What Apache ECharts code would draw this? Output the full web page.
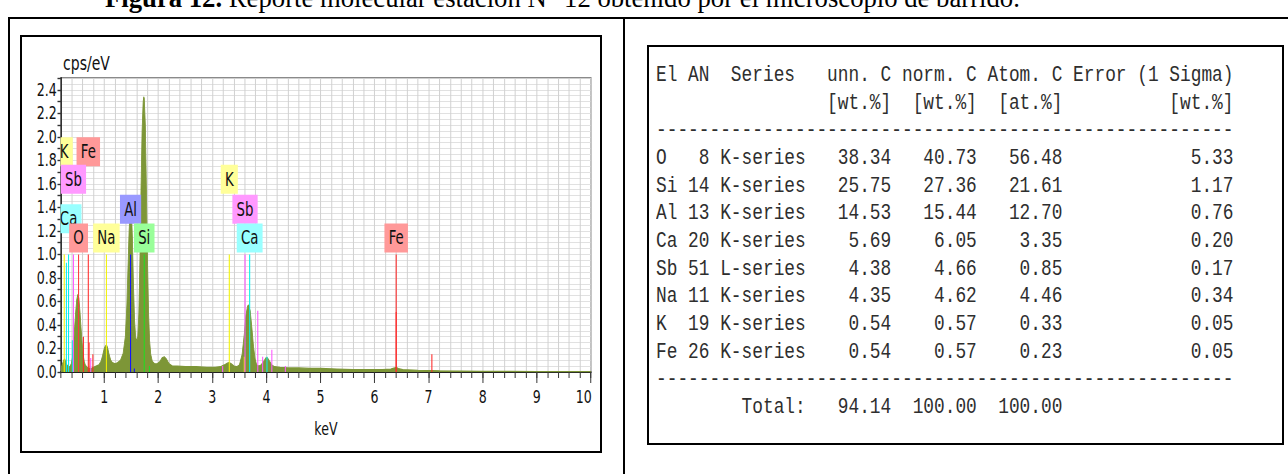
<!DOCTYPE html>
<html>
<head>
<meta charset="utf-8">
<script src="https://cdn.jsdelivr.net/npm/echarts@6/dist/echarts.min.js"></script>
<style>
  html, body { margin: 0; padding: 0; background: #fff; }
  body { width: 1288px; height: 474px; overflow: hidden; position: relative; }
  .rule { position: absolute; background: #000; }
  .box { position: absolute; border: 2px solid #000; box-sizing: border-box; }
  #caption { position: absolute; left: 105px; top: -15px; font: 26.7px/26px 'Liberation Serif', 'Times New Roman', serif; white-space: nowrap; color: #000; }
  #spectrum { position: absolute; left: 22px; top: 37px; width: 824px; height: 413px; transform: scaleX(0.7); transform-origin: 0 0; }
  #quant { position: absolute; left: 656px; top: 62px; margin: 0; font: 22px/27.67px 'Liberation Mono', 'DejaVu Sans Mono', monospace; color: #2e2e2e; transform: scaleX(0.81); transform-origin: 0 0; white-space: pre; }
</style>
</head>
<body>
<div id="caption"><b>Figura 12.</b> Reporte molecular estación N° 12 obtenido por el microscopio de barrido.</div>
<div class="rule" style="left:8px;top:17px;width:1280px;height:2px"></div>
<div class="rule" style="left:8px;top:17px;width:2px;height:457px"></div>
<div class="rule" style="left:623px;top:17px;width:2px;height:457px"></div>
<div class="box" style="left:20px;top:35px;width:582px;height:418px"></div>
<div class="box" style="left:647px;top:45px;width:637px;height:400px"></div>
<div id="spectrum"></div>
<pre id="quant"></pre>
<script>
// EDS spectrum: energy (keV) and intensity (cps/eV)
const energy = [
  0.20, 0.22, 0.25, 0.27, 0.29, 0.31, 0.33, 0.35, 0.37, 0.39,
  0.41, 0.43, 0.45, 0.47, 0.49, 0.51, 0.53, 0.55, 0.57, 0.59,
  0.61, 0.63, 0.65, 0.68, 0.72, 0.76, 0.80, 0.85, 0.90, 0.94,
  0.97, 1.00, 1.02, 1.04, 1.06, 1.09, 1.12, 1.15, 1.20, 1.25,
  1.30, 1.35, 1.39, 1.42, 1.44, 1.46, 1.48, 1.49, 1.50, 1.52,
  1.54, 1.56, 1.58, 1.60, 1.62, 1.64, 1.66, 1.68, 1.70, 1.72,
  1.73, 1.74, 1.76, 1.78, 1.80, 1.82, 1.84, 1.86, 1.89, 1.93,
  1.98, 2.03, 2.07, 2.11, 2.15, 2.20, 2.26, 2.35, 2.50, 2.70,
  2.90, 3.05, 3.15, 3.22, 3.28, 3.31, 3.35, 3.40, 3.45, 3.50,
  3.55, 3.59, 3.62, 3.65, 3.67, 3.70, 3.73, 3.76, 3.79, 3.82,
  3.86, 3.90, 3.95, 3.99, 4.02, 4.06, 4.10, 4.15, 4.25, 4.40,
  4.60, 4.80, 5.00, 5.30, 5.60, 5.90, 6.15, 6.30, 6.37, 6.40,
  6.44, 6.52, 6.80, 7.06, 7.20, 7.60, 8.00, 8.50, 9.00, 9.50, 10.00
];
const intensity = [
  0.03, 0.06, 0.10, 0.11, 0.08, 0.06, 0.05, 0.04, 0.05, 0.07,
  0.12, 0.22, 0.36, 0.50, 0.61, 0.66, 0.63, 0.52, 0.38, 0.25,
  0.15, 0.09, 0.06, 0.04, 0.03, 0.03, 0.04, 0.05, 0.06, 0.09,
  0.14, 0.20, 0.22, 0.23, 0.21, 0.15, 0.10, 0.08, 0.07, 0.08,
  0.10, 0.16, 0.30, 0.58, 0.90, 1.20, 1.40, 1.43, 1.40, 1.15,
  0.75, 0.45, 0.30, 0.26, 0.30, 0.50, 0.95, 1.55, 2.05, 2.30,
  2.34, 2.33, 2.10, 1.55, 0.95, 0.50, 0.26, 0.15, 0.09, 0.07,
  0.07, 0.09, 0.12, 0.13, 0.11, 0.07, 0.05, 0.05, 0.045, 0.045,
  0.04, 0.04, 0.045, 0.06, 0.075, 0.08, 0.07, 0.05, 0.045, 0.06,
  0.15, 0.32, 0.48, 0.56, 0.57, 0.52, 0.38, 0.22, 0.11, 0.06,
  0.05, 0.06, 0.09, 0.12, 0.12, 0.09, 0.06, 0.045, 0.04, 0.035,
  0.035, 0.03, 0.03, 0.025, 0.02, 0.02, 0.02, 0.025, 0.035, 0.04,
  0.03, 0.02, 0.015, 0.012, 0.01, 0.008, 0.006, 0.005, 0.004, 0.003, 0.003
];

// Characteristic X-ray line markers: element, energy (keV), marker height
const lineElements = ['K', 'Ca', 'Ca', 'Ca', 'Sb', 'O', 'Fe', 'Fe', 'Fe', 'Sb', 'Fe',
  'Na', 'Al', 'Al', 'Si', 'Si', 'Sb', 'K', 'K', 'Sb', 'Ca', 'Sb', 'Sb', 'Ca', 'Sb', 'Sb',
  'Fe', 'Fe', 'Fe'];
const lineEnergies = [0.26, 0.30, 0.34, 0.41, 0.43, 0.525, 0.615, 0.705, 0.72, 0.75, 0.79,
  1.04, 1.487, 1.557, 1.74, 1.836, 3.19, 3.313, 3.59, 3.604, 3.69, 3.84, 3.93, 4.01, 4.10, 4.35,
  6.40, 6.40, 7.06];
const lineHeights = [1.0, 0.93, 1.0, 0.27, 1.0, 1.0, 0.30, 1.0, 0.25, 0.12, 0.15,
  1.0, 1.0, 0.03, 1.0, 0.05, 0.05, 1.0, 0.13, 1.0, 1.0, 0.52, 0.13, 0.13, 0.19, 0.05,
  1.0, 0.51, 0.15];

// Element tags: element, energy of the tagged line, bottom edge of the tag (cps/eV)
const tagElements = ['K', 'Fe', 'Sb', 'Ca', 'O', 'Na', 'Al', 'Si', 'K', 'Sb', 'Ca', 'Fe'];
const tagEnergies = [0.26, 0.705, 0.43, 0.34, 0.525, 1.04, 1.487, 1.74, 3.313, 3.604, 3.69, 6.40];
const tagBottoms = [1.75, 1.75, 1.515, 1.18, 1.017, 1.017, 1.26, 1.017, 1.515, 1.26, 1.017, 1.017];

// Axis tick labels
const xTickValues = [1, 2, 3, 4, 5, 6, 7, 8, 9, 10];
const yTickValues = [0, 0.2, 0.4, 0.6, 0.8, 1.0, 1.2, 1.4, 1.6, 1.8, 2.0, 2.2, 2.4];

// Quantification table
const qElements = ['O', 'Si', 'Al', 'Ca', 'Sb', 'Na', 'K', 'Fe'];
const qAtomicNumbers = [8, 14, 13, 20, 51, 11, 19, 26];
const qSeries = ['K-series', 'K-series', 'K-series', 'K-series', 'L-series', 'K-series', 'K-series', 'K-series'];
const qUnnC = [38.34, 25.75, 14.53, 5.69, 4.38, 4.35, 0.54, 0.54];
const qNormC = [40.73, 27.36, 15.44, 6.05, 4.66, 4.62, 0.57, 0.57];
const qAtomC = [56.48, 21.61, 12.70, 3.35, 0.85, 4.46, 0.33, 0.23];
const qError = [5.33, 1.17, 0.76, 0.20, 0.17, 0.34, 0.05, 0.05];
const qTotals = [94.14, 100.00, 100.00];

// ---------- table ----------
const dash = '-'.repeat(54);
const rows = [
  'El AN  Series   unn. C norm. C Atom. C Error (1 Sigma)',
  ' '.repeat(16) + '[wt.%]  [wt.%]  [at.%]' + ' '.repeat(10) + '[wt.%]',
  dash
];
qElements.forEach((el, i) => {
  rows.push(el.padEnd(2) + ' ' + String(qAtomicNumbers[i]).padStart(2) + ' ' + qSeries[i] +
    qUnnC[i].toFixed(2).padStart(8) + qNormC[i].toFixed(2).padStart(8) +
    qAtomC[i].toFixed(2).padStart(8) + qError[i].toFixed(2).padStart(16));
});
rows.push(dash);
rows.push('Total:'.padStart(14) + qTotals.map(v => v.toFixed(2).padStart(8)).join(''));
document.getElementById('quant').textContent = rows.join('\n');

// ---------- spectrum ----------
const lineColor = { K: '#f2f200', Ca: '#00eeee', Sb: '#ff55ff', O: '#ff3a3a', Fe: '#ff2a2a', Na: '#f2f200', Al: '#1010ff', Si: '#22dd22' };
const tagColor = { K: '#ffff99', Ca: '#99ffff', Sb: '#ff99ff', O: '#ff9999', Fe: '#ff9999', Na: '#ffff99', Al: '#9999ff', Si: '#99ff99' };
const fill = '#7d9637';
const font = "'DejaVu Sans', Verdana, sans-serif";
const axisColor = '#222';

const chart = echarts.init(document.getElementById('spectrum'), null, { renderer: 'svg' });
chart.setOption({
  animation: false,
  backgroundColor: 'transparent',
  grid: { left: 55.7, right: 11.4, top: 41, bottom: 78, show: true, backgroundColor: '#fff', borderColor: '#8a8a8a', borderWidth: 2 },
  xAxis: [
    {
      type: 'value', min: 0.2, max: 10, interval: 0.2,
      axisLine: { show: true, onZero: false, lineStyle: { color: axisColor, width: 2 } },
      axisTick: { show: true, length: 6, lineStyle: { color: '#333', width: 1.4 } },
      axisLabel: { show: false },
      splitLine: { show: true, lineStyle: { color: '#d0d0d0', width: 1.4 } }
    },
    {
      type: 'value', min: 0.2, max: 10, position: 'bottom',
      axisLine: { show: false },
      axisTick: { show: true, length: 11, customValues: xTickValues, lineStyle: { color: '#333', width: 1.4 } },
      axisLabel: {
        customValues: xTickValues, margin: 16, fontSize: 18, fontFamily: font, color: '#111',
        formatter: v => (v === 10 ? '{r|10}' : String(v)),
        rich: { r: { fontSize: 18, fontFamily: font, color: '#111', padding: [0, 20, 0, 0] } }
      },
      splitLine: { show: false },
      name: 'keV', nameLocation: 'middle', nameGap: 48,
      nameTextStyle: { fontSize: 18, fontFamily: font, color: '#111' }
    }
  ],
  yAxis: [
    {
      type: 'value', min: 0, max: 2.5, interval: 0.1,
      axisLine: { show: true, onZero: false, lineStyle: { color: axisColor, width: 2 } },
      axisTick: { show: true, length: 5, lineStyle: { color: '#333', width: 1.4 } },
      axisLabel: { customValues: yTickValues, formatter: v => v.toFixed(1), margin: 6, fontSize: 18, fontFamily: font, color: '#111' },
      splitLine: { show: false },
      name: 'cps/eV', nameLocation: 'end', nameGap: 5,
      nameTextStyle: { align: 'left', fontSize: 20, fontFamily: font, color: '#111', padding: [0, 0, 0, 3] }
    },
    {
      type: 'value', min: 0, max: 2.5, interval: 0.05,
      axisLine: { show: false }, axisTick: { show: false }, axisLabel: { show: false },
      splitLine: { show: true, lineStyle: { color: '#dcdcdc', width: 1 } }
    }
  ],
  series: [
    {
      type: 'line', xAxisIndex: 0, yAxisIndex: 0, z: 3, silent: true,
      data: energy.map((e, i) => [e, intensity[i]]),
      showSymbol: false, symbol: 'none',
      lineStyle: { color: fill, width: 1.2 },
      areaStyle: { color: fill, opacity: 1 }
    },
    {
      type: 'custom', xAxisIndex: 0, yAxisIndex: 0, z: 4, clip: true, silent: true,
      data: lineEnergies.map((e, i) => [e, lineHeights[i], i]),
      encode: { x: 0, y: 1 },
      renderItem: (params, api) => {
        const i = api.value(2);
        const p0 = api.coord([api.value(0), 0]);
        const p1 = api.coord([api.value(0), api.value(1)]);
        return {
          type: 'line',
          shape: { x1: p0[0], y1: p0[1], x2: p1[0], y2: p1[1] },
          style: { stroke: lineColor[lineElements[i]], lineWidth: 1.5 }
        };
      }
    },
    {
      type: 'custom', xAxisIndex: 0, yAxisIndex: 0, z: 5, clip: true, silent: true,
      data: tagEnergies.map((e, i) => [e, tagBottoms[i], i]),
      encode: { x: 0, y: 1 },
      renderItem: (params, api) => {
        const i = api.value(2);
        const p = api.coord([api.value(0), api.value(1)]);
        return {
          type: 'text', x: p[0], y: p[1],
          style: {
            text: tagElements[i], font: '19px ' + font, fill: '#111',
            align: 'center', verticalAlign: 'bottom',
            backgroundColor: tagColor[tagElements[i]], padding: [5, 6, 5, 6], lineHeight: 19
          }
        };
      }
    }
  ]
});
</script>
</body>
</html>
